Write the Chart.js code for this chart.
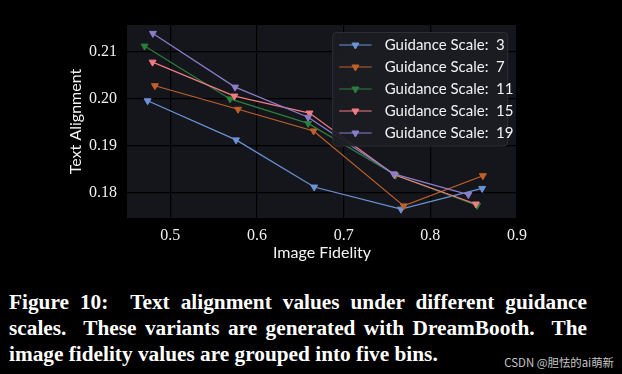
<!DOCTYPE html>
<html>
<head>
<meta charset="utf-8">
<script src="https://cdn.jsdelivr.net/npm/chart.js@4"></script>
<style>
  html, body { margin: 0; padding: 0; background: #000; width: 622px; height: 374px; overflow: hidden; }
  #wrap { position: absolute; left: 0; top: 0; width: 622px; height: 270px; }
  .cap { position: absolute; left: 9px; width: 578px; color: #fff; font-family: "Liberation Serif", serif; font-weight: bold; font-size: 21.3px; line-height: 26px; white-space: nowrap; }
  .just { text-align: justify; text-align-last: justify; white-space: normal; }
  #wm { position: absolute; right: 8px; top: 353px; color: #c4c4c4; font-family: "Noto Sans CJK SC", sans-serif; font-size: 11.4px; line-height: 18px; }
</style>
</head>
<body>
<div id="wrap"><canvas id="c"></canvas></div>
<div class="cap just" style="top:289px">Figure 10: &nbsp;Text alignment values under different guidance</div>
<div class="cap just" style="top:315px">scales. &nbsp;These variants are generated with DreamBooth. &nbsp;The</div>
<div class="cap" style="top:341px">image fidelity values are grouped into five bins.</div>
<div id="wm">CSDN @胆怯的ai萌新</div>
<script>
// ---- data ----
const guidanceScales = [3, 7, 11, 15, 19];
const seriesColors = ['#6b93d6', '#c0602a', '#2b7f3c', '#f47b82', '#8c7dca'];
const fidelity3  = [0.4738, 0.5758, 0.6660, 0.7661, 0.8598];
const align3     = [0.1995, 0.1912, 0.1812, 0.1765, 0.1809];
const fidelity7  = [0.4822, 0.5781, 0.6653, 0.7693, 0.8606];
const align7     = [0.2027, 0.1977, 0.1931, 0.1772, 0.1836];
const fidelity11 = [0.4703, 0.5689, 0.6590, 0.7600, 0.8540];
const align11    = [0.2111, 0.1999, 0.1947, 0.1837, 0.1773];
const fidelity15 = [0.4795, 0.5740, 0.6606, 0.7584, 0.8525];
const align15    = [0.2077, 0.2005, 0.1969, 0.1838, 0.1776];
const fidelity19 = [0.4799, 0.5747, 0.6590, 0.7577, 0.8439];
const align19    = [0.2138, 0.2024, 0.1960, 0.1840, 0.1796];
const xTickValues = [0.5, 0.6, 0.7, 0.8, 0.9];
const xTickLabels = ['0.5', '0.6', '0.7', '0.8', '0.9'];
const yTickValues = [0.18, 0.19, 0.20, 0.21];
const yTickLabels = ['0.18', '0.19', '0.20', '0.21'];
const xRange = [0.45, 0.90];
const yRange = [0.17463, 0.21558];
const xTitle = 'Image Fidelity';
const yTitle = 'Text Alignment';

const fidelitySeries = [fidelity3, fidelity7, fidelity11, fidelity15, fidelity19];
const alignSeries = [align3, align7, align11, align15, align19];

const datasets = guidanceScales.map((g, i) => ({
  label: 'Guidance Scale:  ' + g,
  data: fidelitySeries[i].map((x, j) => ({ x: x, y: alignSeries[i][j] })),
  borderColor: seriesColors[i],
  backgroundColor: seriesColors[i],
  pointBackgroundColor: seriesColors[i],
  pointBorderColor: seriesColors[i],
  borderWidth: 1.2,
  pointStyle: 'triangle',
  pointRotation: 180,
  pointRadius: 4,
  pointBorderWidth: 1,
  tension: 0,
  fill: false,
  order: guidanceScales.length - 1 - i
}));

const plotBg = {
  id: 'plotBg',
  beforeDraw(chart) {
    const { ctx, chartArea: a } = chart;
    ctx.save();
    ctx.fillStyle = '#14161c';
    ctx.fillRect(a.left, a.top, a.right - a.left, a.bottom - a.top);
    ctx.restore();
  }
};

const insideLegend = {
  id: 'insideLegend',
  afterDatasetsDraw(chart) {
    const { ctx, chartArea: a } = chart;
    const boxW = 175, boxH = 113.5, rowH = 22;
    const x0 = a.right - 9.3 - boxW, y0 = a.top + 7.5;
    ctx.save();
    ctx.beginPath();
    ctx.roundRect(x0, y0, boxW, boxH, 4);
    ctx.fillStyle = 'rgba(27,29,35,0.92)';
    ctx.fill();
    ctx.strokeStyle = '#2d2f35';
    ctx.lineWidth = 1;
    ctx.stroke();
    chart.data.datasets.forEach((ds, i) => {
      const cy = y0 + 12.5 + i * rowH;
      ctx.beginPath();
      ctx.strokeStyle = ds.borderColor;
      ctx.lineWidth = 1.2;
      ctx.moveTo(x0 + 6.5, cy);
      ctx.lineTo(x0 + 39, cy);
      ctx.stroke();
      ctx.fillStyle = ds.borderColor;
      ctx.strokeStyle = ds.borderColor;
      ctx.lineWidth = 1;
      Chart.helpers.drawPoint(ctx, { pointStyle: 'triangle', rotation: 180, radius: 4, borderWidth: 1 }, x0 + 22.7, cy);
      ctx.fillStyle = '#f2f2f2';
      ctx.font = '15px Lato';
      ctx.textBaseline = 'middle';
      ctx.textAlign = 'left';
      ctx.fillText(ds.label, x0 + 52, cy + 0.5);
    });
    ctx.restore();
  }
};

new Chart(document.getElementById('c'), {
  type: 'line',
  data: { datasets: datasets },
  plugins: [plotBg, insideLegend],
  options: {
    responsive: true,
    maintainAspectRatio: false,
    animation: false,
    layout: { padding: { left: 0, top: 25, right: 105, bottom: 0 } },
    plugins: { legend: { display: false }, tooltip: { enabled: false } },
    scales: {
      x: {
        type: 'linear',
        min: xRange[0], max: xRange[1],
        afterBuildTicks: s => { s.ticks = xTickValues.map(v => ({ value: v })); },
        afterFit: s => { s.height = 52; },
        grid: { color: '#000', lineWidth: 1.2, drawTicks: false },
        border: { display: false },
        ticks: {
          padding: 8,
          color: '#f0f0f0',
          font: { family: 'Liberation Serif', size: 16 },
          callback: (v, i) => xTickLabels[i]
        },
        title: { display: true, text: xTitle, color: '#f4f4f4', font: { family: 'Lato', size: 16 }, padding: { top: 0, bottom: 8 } }
      },
      y: {
        type: 'linear',
        min: yRange[0], max: yRange[1],
        afterBuildTicks: s => { s.ticks = yTickValues.map(v => ({ value: v })); },
        afterFit: s => { s.width = 127; },
        grid: { color: '#000', lineWidth: 1.2, drawTicks: false },
        border: { display: false },
        ticks: {
          padding: 10,
          color: '#f0f0f0',
          font: { family: 'Liberation Serif', size: 16 },
          callback: (v, i) => yTickLabels[i]
        },
        title: { display: true, text: yTitle, color: '#f4f4f4', font: { family: 'Lato', size: 16 }, padding: { top: 66, bottom: 0 } }
      }
    }
  }
});
</script>
</body>
</html>
